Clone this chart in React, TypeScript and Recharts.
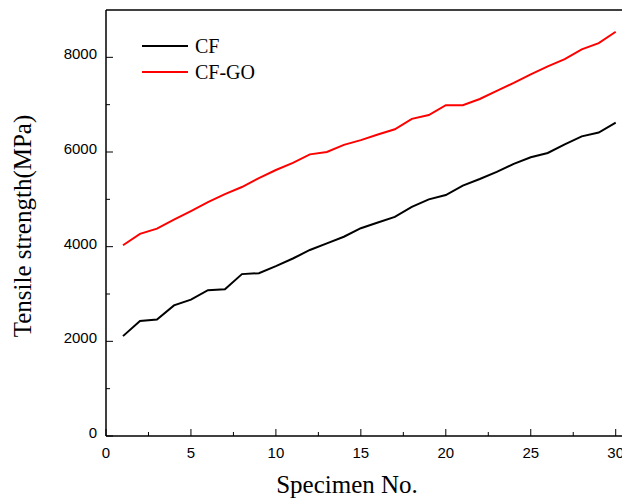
import React from 'react';
import { LineChart, Line, XAxis, YAxis, Legend, ReferenceLine, Label } from 'recharts';

// specimen numbers and measured tensile strength (MPa)
const specimens = [1, 2, 3, 4, 5, 6, 7, 8, 9, 10, 11, 12, 13, 14, 15, 16, 17, 18, 19, 20, 21, 22, 23, 24, 25, 26, 27, 28, 29, 30];
const cfValues = [2110, 2430, 2460, 2760, 2880, 3080, 3100, 3420, 3440, 3590, 3750, 3930, 4070, 4210, 4390, 4510, 4630, 4840, 5000, 5090, 5290, 5430, 5580, 5750, 5890, 5980, 6160, 6330, 6410, 6620];
const cfGoValues = [4030, 4270, 4380, 4570, 4750, 4940, 5110, 5260, 5450, 5620, 5770, 5950, 6000, 6150, 6250, 6370, 6480, 6700, 6780, 6990, 6990, 7120, 7290, 7460, 7640, 7810, 7960, 8170, 8300, 8540];

const xTicks = [0, 2.5, 5, 7.5, 10, 12.5, 15, 17.5, 20, 22.5, 25, 27.5, 30];
const yTicks = [0, 1000, 2000, 3000, 4000, 5000, 6000, 7000, 8000];

const data = specimens.map((no, i) => ({ no, cf: cfValues[i], cfGo: cfGoValues[i] }));

const serif = '"Liberation Serif", "Times New Roman", serif';
const sans = '"Liberation Sans", Arial, sans-serif';

// ticks point inward; minor ticks are shorter and have no label
const XTick = (props: any) => {
  const { x, y, payload } = props;
  const major = payload.value % 5 === 0;
  return (
    <g>
      <line x1={x} x2={x} y1={y} y2={y - (major ? 7 : 4)} stroke="#000" strokeWidth={1} />
      {major && (
        <text x={x} y={y + 22} textAnchor="middle" fontFamily={sans} fontSize={15} fill="#000">
          {payload.value}
        </text>
      )}
    </g>
  );
};

const YTick = (props: any) => {
  const { x, y, payload } = props;
  const major = payload.value % 2000 === 0;
  return (
    <g>
      <line x1={x} x2={x + (major ? 7 : 4)} y1={y} y2={y} stroke="#000" strokeWidth={1} />
      {major && (
        <text x={x - 9} y={y + 2} textAnchor="end" fontFamily={sans} fontSize={15} fill="#000">
          {payload.value}
        </text>
      )}
    </g>
  );
};

const LegendBox = (props: any) => {
  const { payload } = props;
  return (
    <div>
      {payload.map((item: any) => (
        <div key={item.value} style={{ display: 'flex', alignItems: 'center', height: 26 }}>
          <svg width={46} height={4} style={{ marginRight: 7 }}>
            <line x1={0} x2={46} y1={2} y2={2} stroke={item.color} strokeWidth={2} />
          </svg>
          <span style={{ fontFamily: serif, fontSize: 20, color: '#000', lineHeight: '26px' }}>{item.value}</span>
        </div>
      ))}
    </div>
  );
};

const App: React.FC = () => {
  return (
    <div style={{ position: 'absolute', left: 0, top: 0, width: 622, height: 499, overflow: 'hidden', background: '#fff' }}>
      <LineChart width={622} height={499} data={data} margin={{ top: 10, right: 0, left: 0, bottom: 0 }}>
        <XAxis
          dataKey="no"
          type="number"
          domain={[0, 30.37]}
          ticks={xTicks}
          interval={0}
          height={63}
          tickSize={0}
          tickMargin={0}
          tickLine={false}
          tick={<XTick />}
          axisLine={{ stroke: '#000', strokeWidth: 1.5 }}
        >
          <Label
            content={(p: any) => (
              <text
                x={p.viewBox.x + 241}
                y={p.viewBox.y + 57}
                textAnchor="middle"
                fontFamily={serif}
                fontSize={25}
                fill="#000"
              >
                Specimen No.
              </text>
            )}
          />
        </XAxis>
        <YAxis
          type="number"
          domain={[0, 9000]}
          ticks={yTicks}
          interval={0}
          width={106}
          tickSize={0}
          tickMargin={0}
          tickLine={false}
          tick={<YTick />}
          axisLine={{ stroke: '#000', strokeWidth: 1.5 }}
        >
          <Label
            content={(p: any) => {
              const cx = p.viewBox.x + 31;
              const cy = p.viewBox.y + p.viewBox.height / 2 + 3;
              return (
                <text
                  x={cx}
                  y={cy}
                  transform={`rotate(-90, ${cx}, ${cy})`}
                  textAnchor="middle"
                  fontFamily={serif}
                  fontSize={25}
                  fill="#000"
                >
                  Tensile strength(MPa)
                </text>
              );
            }}
          />
        </YAxis>
        <ReferenceLine y={9000} stroke="#000" strokeWidth={1.5} />
        <Legend
          layout="horizontal"
          verticalAlign="middle"
          align="center"
          content={<LegendBox />}
          wrapperStyle={{ position: 'absolute', left: 142, top: 33, width: 'auto', height: 'auto' }}
        />
        <Line type="linear" dataKey="cf" name="CF" stroke="#000" strokeWidth={2} dot={false} isAnimationActive={false} />
        <Line type="linear" dataKey="cfGo" name="CF-GO" stroke="#ff0000" strokeWidth={2} dot={false} isAnimationActive={false} />
      </LineChart>
    </div>
  );
};

export default App;
